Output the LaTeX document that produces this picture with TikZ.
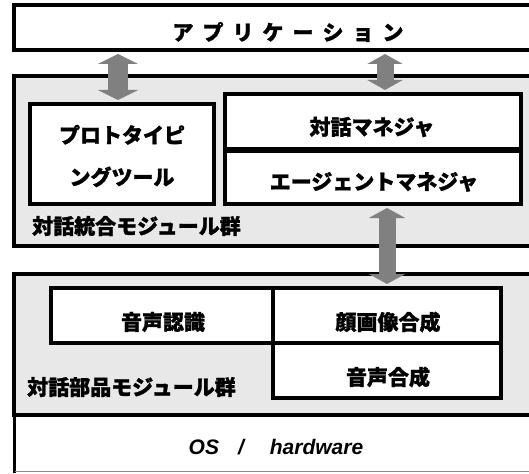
\documentclass[tikz,border=0pt]{standalone}
\usepackage{fontspec}
\setmainfont{Liberation Sans}
\newfontfamily\jp{Noto Sans CJK JP}[BoldFeatures={FakeBold=1.2}]
\usetikzlibrary{fit,arrows.meta}
\definecolor{grayfill}{HTML}{E8E8E8}
\definecolor{arrowgray}{HTML}{808080}
\begin{document}
\begin{tikzpicture}[x=1pt,y=-1pt,
  box/.style={draw=black,line width=4pt,inner sep=0pt,fill=white},
  grp/.style={draw=black,line width=4pt,inner sep=0pt,fill=grayfill},
  jtxt/.style={font=\jp\bfseries\fontsize{21}{24}\selectfont,inner sep=0pt},
  barrow/.style 2 args={draw=arrowgray,line width=#1,
    {Triangle[width=#2,length=10pt]}-{Triangle[width=#2,length=10pt]},
    shorten <=2pt,shorten >=2pt}]
\clip (0,0) rectangle (529,473);
% boxes
\node[box,fit={(14,5.5)(560,50)}] (app) {};
\node[grp,fit={(14,76)(560,246)}] (integ) {};
\node[box,fit={(30,104)(213.5,204)}] (proto) {};
\node[box,fit={(225,94)(521,149.5)}] (dm) {};
\node[box,fit={(225,150.5)(521,204)}] (am) {};
\node[grp,fit={(14,274)(560,415)}] (parts) {};
\node[box,fit={(51,288)(273,343)}] (asr) {};
\node[box,fit={(273,288)(501,343)}] (face) {};
\node[box,fit={(273,343)(501,398)}] (tts) {};
\node[fill=white,inner sep=0pt,fit={(15.5,417)(560,471)}] (os) {};
\draw[line width=3pt] (14,416) -- (14,473);
\draw[black!45,line width=1pt] (os.south west) -- (os.south east);
% texts
\node[jtxt] (tapp) at (288,32) {ア\hspace{9pt}プ\hspace{9pt}リ\hspace{9pt}ケ\hspace{9pt}ー\hspace{9pt}シ\hspace{9pt}ョ\hspace{9pt}ン};
\node[jtxt,align=center,font=\jp\bfseries\fontsize{21}{42}\selectfont] (tproto) at (122,156) {プロトタイピ\\ングツール};
\node[jtxt] (tdm) at (372,127) {対話マネジャ};
\node[jtxt] (tam) at (374,182) {エージェントマネジャ};
\node[jtxt,anchor=west] (tinteg) at (32,226) {対話統合モジュール群};
\node[jtxt] (tasr) at (163,322) {音声認識};
\node[jtxt] (tface) at (388,322) {顔画像合成};
\node[jtxt] (ttts) at (388,377) {音声合成};
\node[jtxt,anchor=west] (tparts) at (27,387) {対話部品モジュール群};
\node[font=\bfseries\itshape\fontsize{21}{24}\selectfont,inner sep=0pt] (tos) at (276,447) {OS\hspace{19pt}/\hspace{26pt}hardware};
% arrows
\coordinate (xa) at (118,0);
\coordinate (xb) at (385,0);
\draw[barrow={20pt}{40pt}] (app.south -| xa) -- (proto.north -| xa);
\draw[barrow={17pt}{35pt}] (app.south -| xb) -- (dm.north -| xb);
\draw[barrow={17pt}{36pt}] (face.north |- am.south) -- (face.north);
\end{tikzpicture}
\end{document}
